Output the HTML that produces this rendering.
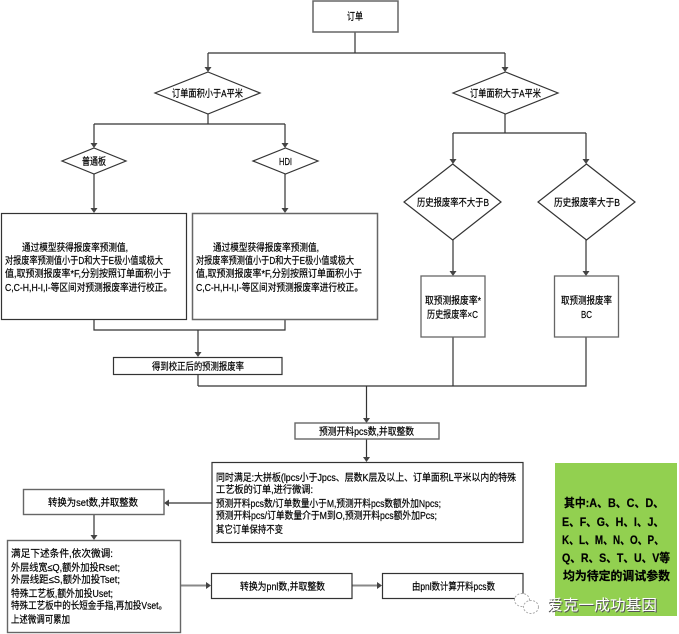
<!DOCTYPE html>
<html><head><meta charset="utf-8">
<style>
html,body{margin:0;padding:0;background:#fff;width:679px;height:634px;overflow:hidden}
svg{display:block}
text{font-family:"Liberation Sans","WenQuanYi Zen Hei","Noto Sans CJK SC",sans-serif;font-size:10px;fill:#000;stroke:#000;stroke-width:.2}
.b{fill:#fff;stroke:#333;stroke-width:1.2}
.l{fill:none;stroke:#333;stroke-width:1.2}
.g{fill:#fff;stroke:#666;stroke-width:1.5}
.a{fill:#444;stroke:none}
.gt{font-size:12px;font-weight:bold}
.wm{font-size:15px;fill:#fff;stroke:none;font-family:"Liberation Sans","Noto Sans CJK SC",sans-serif}
</style></head><body>
<svg width="679" height="634" viewBox="0 0 679 634" xmlns="http://www.w3.org/2000/svg">
<!-- green -->
<rect x="555" y="463" width="122" height="153" fill="#92d050"/>
<!-- connectors -->
<path class="l" d="M355 32V53M208 53H505M208 53V68M505 53V68"/>
<path class="l" d="M208 114V124M94 124H285M94 124V144M285 124V144"/>
<path class="l" d="M94 174V209M285 174V209"/>
<path class="l" d="M505 114V133M453 133H586M453 133V160M586 133V160"/>
<path class="l" d="M453 240V272M586 240V272"/>
<path class="l" d="M94 319V330H285V319M198 330V353"/>
<path class="l" d="M198 374V386M198 386H586V337M453 337V386M366.500 386V418"/>
<path class="l" d="M366.500 439V458"/>
<path class="l" d="M212 503H168" stroke="#666"/>
<path class="l" d="M94 514V536"/>
<path d="M180 585.500H207" fill="none" stroke="#888" stroke-width="2"/>
<path d="M352 585.500H378" fill="none" stroke="#888" stroke-width="2"/>
<!-- arrowheads -->
<path class="a" d="M204.500 67H211.500L208 72Z"/>
<path class="a" d="M501.500 67H508.500L505 72Z"/>
<path class="a" d="M90.500 143H97.500L94 148Z"/>
<path class="a" d="M281.500 143H288.500L285 148Z"/>
<path class="a" d="M449.500 159H456.500L453 164Z"/>
<path class="a" d="M582.500 159H589.500L586 164Z"/>
<path class="a" d="M90.500 208H97.500L94 213Z"/>
<path class="a" d="M281.500 208H288.500L285 213Z"/>
<path class="a" d="M449.500 271H456.500L453 276Z"/>
<path class="a" d="M582.500 271H589.500L586 276Z"/>
<path class="a" d="M194.500 352H201.500L198 357Z"/>
<path class="a" d="M363 418H370L366.500 423Z"/>
<path class="a" d="M363 457H370L366.500 462Z"/>
<path class="a" d="M90.500 535H97.500L94 540Z"/>
<path class="a" d="M169 499.500V506.500L164 503Z"/>
<path class="a" d="M206 582V589L211 585.500Z"/>
<path class="a" d="M377 582V589L382 585.500Z"/>
<!-- nodes -->
<rect class="g" x="313" y="1" width="85" height="31"/>
<polygon class="b" points="208,72 260,93 208,114 155,93"/>
<polygon class="b" points="505.500,72 558,93 505.500,114 453,93"/>
<polygon class="b" points="94,148 126,161 94,174 62,161"/>
<polygon class="b" points="285.500,148 318,161 285.500,174 253,161"/>
<polygon class="b" points="452.700,164 501,202 452.700,240 404,202"/>
<polygon class="b" points="586.500,164 635,202 586.500,240 538,202"/>
<rect class="b" x="1.500" y="213.500" width="185" height="106"/>
<rect class="g" x="192.500" y="213.500" width="185" height="106"/>
<rect class="g" x="421" y="276" width="64" height="61" style="stroke-width:1.3"/>
<rect class="g" x="554.500" y="276" width="64" height="61" style="stroke-width:1.3"/>
<rect class="b" x="113.500" y="357.500" width="168.500" height="17"/>
<rect class="g" x="295" y="423" width="144" height="16" style="stroke-width:1.4"/>
<rect class="b" x="212" y="462.500" width="311" height="80"/>
<rect class="g" x="23.500" y="489.500" width="140.500" height="25" style="stroke-width:1.4"/>
<rect class="g" x="7.500" y="540.500" width="173" height="92" style="stroke-width:1.4"/>
<rect class="b" x="211.500" y="573.500" width="140.500" height="25"/>
<rect class="b" x="382.500" y="573.500" width="140.500" height="25"/>
<!-- labels -->
<text x="347" y="20" textLength="16" lengthAdjust="spacingAndGlyphs">订单</text>
<text x="172" y="97" textLength="71" lengthAdjust="spacingAndGlyphs">订单面积小于A平米</text>
<text x="470" y="97" textLength="71" lengthAdjust="spacingAndGlyphs">订单面积大于A平米</text>
<text x="82" y="165" textLength="24" lengthAdjust="spacingAndGlyphs">普通板</text>
<text x="279" y="165" textLength="13" lengthAdjust="spacingAndGlyphs">HDI</text>
<text x="417" y="206" textLength="72" lengthAdjust="spacingAndGlyphs">历史报废率不大于B</text>
<text x="554" y="206" textLength="66" lengthAdjust="spacingAndGlyphs">历史报废率大于B</text>
<text x="22" y="251" textLength="106" lengthAdjust="spacingAndGlyphs">通过模型获得报废率预测值,</text>
<text x="5" y="264" textLength="158" lengthAdjust="spacingAndGlyphs">对报废率预测值小于D和大于E极小值或极大</text>
<text x="5" y="277" textLength="166" lengthAdjust="spacingAndGlyphs">值,取预测报废率*F,分别按照订单面积小于</text>
<text x="5" y="291" textLength="167" lengthAdjust="spacingAndGlyphs">C,C-H,H-I,I-等区间对预测报废率进行校正。</text>
<text x="213" y="251" textLength="106" lengthAdjust="spacingAndGlyphs">通过模型获得报废率预测值,</text>
<text x="196" y="264" textLength="158" lengthAdjust="spacingAndGlyphs">对报废率预测值小于D和大于E极小值或极大</text>
<text x="196" y="277" textLength="166" lengthAdjust="spacingAndGlyphs">值,取预测报废率*F,分别按照订单面积小于</text>
<text x="196" y="291" textLength="167" lengthAdjust="spacingAndGlyphs">C,C-H,H-I,I-等区间对预测报废率进行校正。</text>
<text x="425" y="304" textLength="56" lengthAdjust="spacingAndGlyphs">取预测报废率*</text>
<text x="427" y="318" textLength="51" lengthAdjust="spacingAndGlyphs">历史报废率×C</text>
<text x="561" y="304" textLength="51" lengthAdjust="spacingAndGlyphs">取预测报废率</text>
<text x="581" y="318" textLength="11" lengthAdjust="spacingAndGlyphs">BC</text>
<text x="152" y="370" textLength="92" lengthAdjust="spacingAndGlyphs">得到校正后的预测报废率</text>
<text x="319" y="435" textLength="95" lengthAdjust="spacingAndGlyphs">预测开料pcs数,并取整数</text>
<text x="216" y="481" textLength="300" lengthAdjust="spacingAndGlyphs">同时满足:大拼板(lpcs小于Jpcs、层数K层及以上、订单面积L平米以内的特殊</text>
<text x="216" y="493" textLength="97" lengthAdjust="spacingAndGlyphs">工艺板的订单,进行微调:</text>
<text x="216" y="507" textLength="225" lengthAdjust="spacingAndGlyphs">预测开料pcs数/订单数量小于M,预测开料pcs数额外加Npcs;</text>
<text x="216" y="519" textLength="221" lengthAdjust="spacingAndGlyphs">预测开料pcs/订单数量介于M到O,预测开料pcs额外加Pcs;</text>
<text x="216" y="533" textLength="67" lengthAdjust="spacingAndGlyphs">其它订单保持不变</text>
<text x="48" y="506" textLength="90" lengthAdjust="spacingAndGlyphs">转换为set数,并取整数</text>
<text x="11" y="557" textLength="102" lengthAdjust="spacingAndGlyphs">满足下述条件,依次微调:</text>
<text x="11" y="571" textLength="109" lengthAdjust="spacingAndGlyphs">外层线宽≤Q,额外加投Rset;</text>
<text x="11" y="583" textLength="109" lengthAdjust="spacingAndGlyphs">外层线距≤S,额外加投Tset;</text>
<text x="11" y="597" textLength="102" lengthAdjust="spacingAndGlyphs">特殊工艺板,额外加投Uset;</text>
<text x="11" y="609" textLength="156" lengthAdjust="spacingAndGlyphs">特殊工艺板中的长短金手指,再加投Vset。</text>
<text x="11" y="623" textLength="59" lengthAdjust="spacingAndGlyphs">上述微调可累加</text>
<text x="240" y="590" textLength="85" lengthAdjust="spacingAndGlyphs">转换为pnl数,并取整数</text>
<text x="412" y="590" textLength="83" lengthAdjust="spacingAndGlyphs">由pnl数计算开料pcs数</text>
<!-- green text -->
<text class="gt" x="564" y="507" textLength="100" lengthAdjust="spacingAndGlyphs">其中:A、B、C、D、</text>
<text class="gt" x="562" y="526" textLength="102" lengthAdjust="spacingAndGlyphs">E、F、G、H、I、J、</text>
<text class="gt" x="562" y="544" textLength="102" lengthAdjust="spacingAndGlyphs">K、L、M、N、O、P、</text>
<text class="gt" x="562" y="562" textLength="108" lengthAdjust="spacingAndGlyphs">Q、R、S、T、U、V等</text>
<text class="gt" x="563" y="580" textLength="107" lengthAdjust="spacingAndGlyphs">均为待定的调试参数</text>
<!-- watermark -->
<g fill="#fff" stroke="#aaa" stroke-width="1" stroke-dasharray="2 1.500">
<ellipse cx="522" cy="600" rx="7.500" ry="6.500"/>
<ellipse cx="531" cy="607" rx="7.500" ry="6.500"/>
</g>
<text class="wm" x="548" y="611" textLength="110" lengthAdjust="spacingAndGlyphs" style="fill:#555">爱克一成功基因</text>
<text class="wm" x="547" y="610" textLength="110" lengthAdjust="spacingAndGlyphs">爱克一成功基因</text>
</svg>
</body></html>
